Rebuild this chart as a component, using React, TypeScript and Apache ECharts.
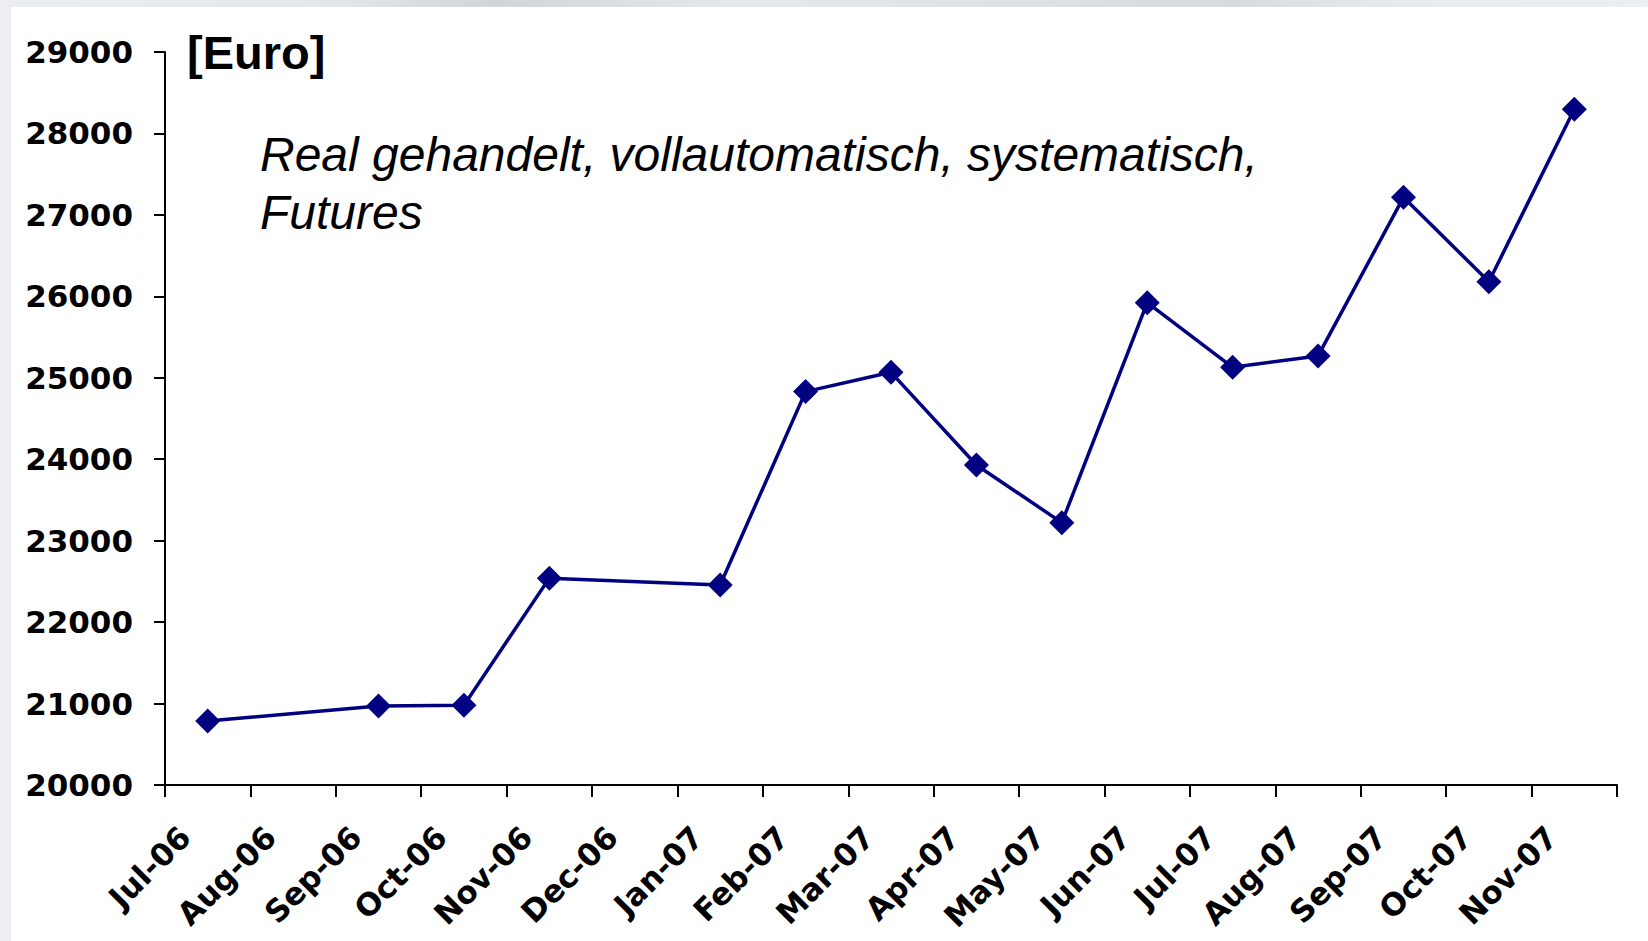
import React, { useEffect, useRef } from "react";
import * as echarts from "echarts";

const categories = [
  "Jul-06", "Aug-06", "Sep-06", "Oct-06", "Nov-06", "Dec-06", "Jan-07", "Feb-07", "Mar-07",
  "Apr-07", "May-07", "Jun-07", "Jul-07", "Aug-07", "Sep-07", "Oct-07", "Nov-07",
];
const values: (number | null)[] = [
  20786, null, 20970, 20979, 22540, null, 22456, 24830, 25067,
  23929, 23221, 25922, 25129, 25268, 27216, 26180, 28297,
];
const yMin = 20000;
const yMax = 29000;
const yStep = 1000;
const unitLabel = "[Euro]";
const noteLines = ["Real gehandelt, vollautomatisch, systematisch,", "Futures"];

export default function App() {
  const ref = useRef<HTMLDivElement>(null);
  useEffect(() => {
    if (!ref.current) return;
    const chart = echarts.init(ref.current, null, { renderer: "svg" });
    const tickFont = "DejaVu Sans";
    chart.setOption({
      animation: false,
      backgroundColor: "#ffffff",
      grid: { left: 165, right: 31, top: 52, bottom: 156, containLabel: false },
      xAxis: {
        type: "category",
        data: categories,
        boundaryGap: true,
        axisLine: { show: true, lineStyle: { color: "#000", width: 2 } },
        axisTick: { show: true, length: 12, inside: false, alignWithLabel: false, lineStyle: { color: "#000", width: 2 } },
        axisLabel: {
          interval: 0,
          rotate: 45,
          margin: 24,
          padding: [0, 32, 0, 0],
          color: "#000",
          fontFamily: tickFont,
          fontWeight: "bold",
          fontSize: 31,
        },
        splitLine: { show: false },
      },
      yAxis: {
        type: "value",
        min: yMin,
        max: yMax,
        interval: yStep,
        axisLine: { show: true, lineStyle: { color: "#000", width: 2 } },
        axisTick: { show: true, length: 11, inside: false, lineStyle: { color: "#000", width: 2 } },
        axisLabel: {
          margin: 32,
          color: "#000",
          fontFamily: tickFont,
          fontWeight: "bold",
          fontSize: 31,
          formatter: (v: number) => String(v),
        },
        splitLine: { show: false },
      },
      series: [
        {
          type: "line",
          data: values,
          connectNulls: true,
          symbol: "diamond",
          symbolSize: 25,
          lineStyle: { color: "#000080", width: 3.5 },
          itemStyle: { color: "#000080" },
        },
      ],
      graphic: [
        {
          type: "rect",
          left: 0,
          top: 0,
          shape: { width: 1648, height: 7 },
          style: {
            fill: new echarts.graphic.LinearGradient(0, 0, 1, 0, [
              { offset: 0, color: "#eceef0" },
              { offset: 0.2, color: "#e4e6e9" },
              { offset: 0.3, color: "#d2d4d8" },
              { offset: 0.45, color: "#e6e8eb" },
              { offset: 0.75, color: "#d8dadd" },
              { offset: 0.85, color: "#e8eaed" },
              { offset: 1, color: "#eceef0" },
            ]),
          },
          silent: true,
        },
        {
          type: "rect",
          left: 0,
          top: 0,
          shape: { width: 11, height: 941 },
          style: { fill: "#eceef1" },
          silent: true,
        },
        {
          type: "text",
          x: 187,
          y: 52,
          style: {
            text: unitLabel,
            fill: "#000",
            font: "bold 47px 'Liberation Sans', Arial, sans-serif",
            verticalAlign: "middle",
            align: "left",
          },
        },
        {
          type: "text",
          x: 260,
          y: 154,
          style: {
            text: noteLines[0],
            fill: "#000",
            font: "italic 48px 'Liberation Sans', Arial, sans-serif",
            verticalAlign: "middle",
            align: "left",
          },
        },
        {
          type: "text",
          x: 260,
          y: 212,
          style: {
            text: noteLines[1],
            fill: "#000",
            font: "italic 48px 'Liberation Sans', Arial, sans-serif",
            verticalAlign: "middle",
            align: "left",
          },
        },
      ],
    });
    return () => chart.dispose();
  }, []);
  return (
    <div
      ref={ref}
      style={{ position: "absolute", left: 0, top: 0, width: 1648, height: 941 }}
    />
  );
}
